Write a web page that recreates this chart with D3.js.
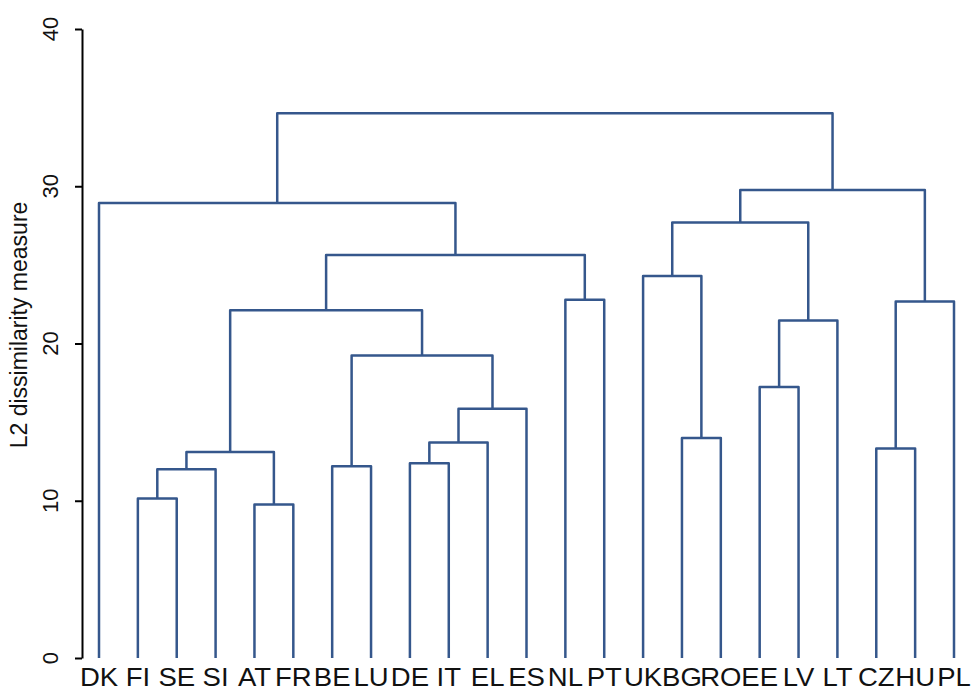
<!DOCTYPE html>
<html>
<head>
<meta charset="utf-8">
<script src="https://cdn.jsdelivr.net/npm/d3@7"></script>
<style>
  html, body { margin: 0; padding: 0; background: #fff; }
  svg { display: block; }
  text { font-family: "Liberation Sans", Arial, sans-serif; fill: #111; }
</style>
</head>
<body>
<svg id="chart" width="971" height="693"></svg>
<script>
// Leaf order along the bottom of the dendrogram
const leaves = ["DK","FI","SE","SI","AT","FR","BE","LU","DE","IT","EL","ES",
                "NL","PT","UK","BG","RO","EE","LV","LT","CZ","HU","PL"];

// Agglomeration steps: a leaf name, or "#n" for the cluster built at step n
const mergeLeft   = ["AT","FI","#2","BE","DE","#3","CZ","#5","BG","#8","EE",
                     "#4","#11","#6","#7","NL","UK","#14","#17","DK","#19","#20"];
const mergeRight  = ["FR","SE","SI","LU","IT","#1","HU","EL","RO","ES","LV",
                     "#10","LT","#12","PL","PT","#9","#16","#13","#18","#15","#21"];
const mergeHeight = [9.76,10.14,12.0,12.19,12.38,13.1,13.33,13.7,13.99,15.85,17.23,
                     19.24,21.46,22.11,22.67,22.79,24.3,25.63,27.7,28.93,29.76,34.65];

const yTicks = [0, 10, 20, 30, 40];
const yTitle = "L2 dissimilarity measure";

// Build the tree from the merge steps
const clusters = [];
const ref = k => k.startsWith("#") ? clusters[+k.slice(1) - 1] : { name: k, h: 0 };
mergeLeft.forEach((l, i) => {
  clusters.push({ name: "#" + (i + 1), h: mergeHeight[i], children: [ref(l), ref(mergeRight[i])] });
});
const root = d3.hierarchy(clusters[clusters.length - 1]);

const svg = d3.select("#chart");
const x = d3.scalePoint().domain(leaves).range([99, 954]);
const y = d3.scaleLinear().domain([0, 40]).range([658, 29]);

// Leaves sit at their slot; joins sit midway between their two branches
root.eachAfter(n => {
  n.px = n.children ? d3.mean(n.children, c => c.px) : x(n.data.name);
});

const lineColor = "#35578c";
const g = svg.append("g");
root.each(n => {
  if (!n.children) return;
  const [a, b] = n.children;
  const p = d3.path();
  p.moveTo(a.px, y(a.data.h));
  p.lineTo(a.px, y(n.data.h));
  p.lineTo(b.px, y(n.data.h));
  p.lineTo(b.px, y(b.data.h));
  g.append("path")
    .attr("d", p.toString())
    .attr("fill", "none")
    .attr("stroke", lineColor)
    .attr("stroke-width", 2.5)
    .attr("stroke-linejoin", "round");
});

// Y axis
const axis = svg.append("g")
  .attr("transform", "translate(82,0)")
  .call(d3.axisLeft(y).tickValues(yTicks).tickSize(7).tickSizeOuter(0).tickFormat(""));
axis.select(".domain").attr("stroke", "#000").attr("stroke-width", 2);
axis.selectAll(".tick line").attr("stroke", "#000").attr("stroke-width", 2);

svg.append("g").selectAll("text")
  .data(yTicks)
  .join("text")
  .attr("transform", d => `translate(58,${y(d)}) rotate(-90)`)
  .attr("text-anchor", "middle")
  .style("font-size", "22px")
  .text(d => d);

svg.append("text")
  .attr("transform", "translate(27,325) rotate(-90)")
  .attr("text-anchor", "middle")
  .style("font-size", "23px")
  .text(yTitle);

// Leaf labels, slightly widened
svg.append("g").selectAll("text")
  .data(leaves)
  .join("text")
  .attr("transform", d => `translate(${x(d)},686) scale(1.1,1)`)
  .attr("text-anchor", "middle")
  .style("font-size", "25px")
  .text(d => d);
</script>
</body>
</html>
